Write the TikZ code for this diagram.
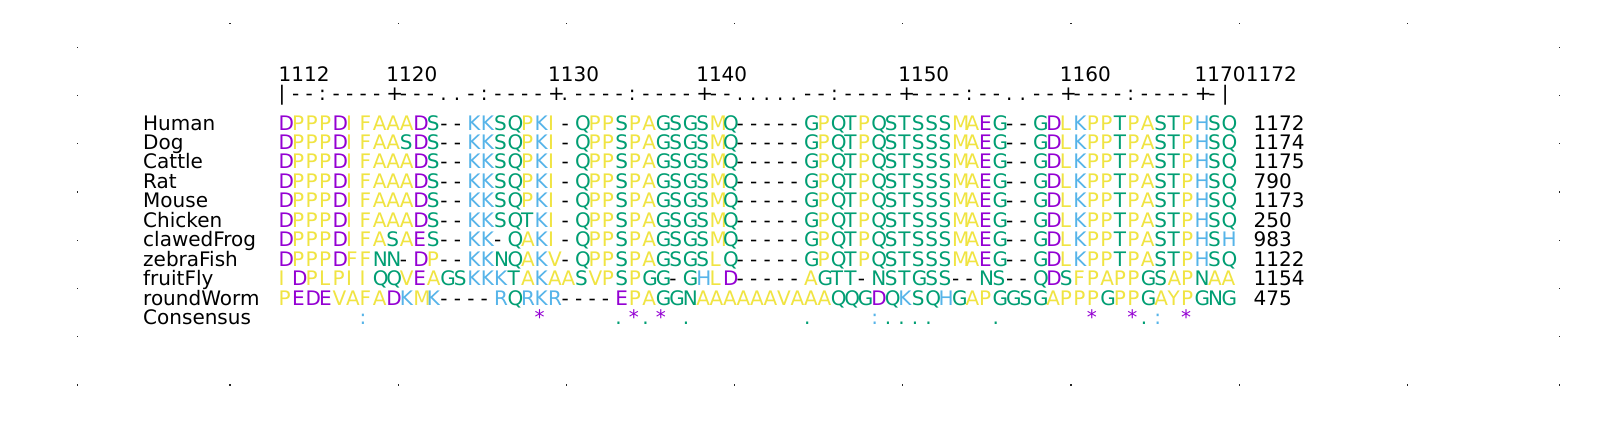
\documentclass[tikz,border=0pt]{standalone}
\usepackage{fontspec}
\setmainfont{DejaVu Sans}
\usepackage{tikz}
\usetikzlibrary{positioning}
\usepackage{xcolor}

\definecolor{acidic}{RGB}{148,0,211}
\definecolor{basic}{RGB}{86,180,233}
\definecolor{polar}{RGB}{0,158,115}
\definecolor{hydrophobic}{RGB}{240,228,66}

\newlength\colw
\setlength\colw{13.47pt}
\newif\ifshade

\makeatletter
\def\setres#1#2{\@tfor\@r:=#1\do{\expandafter\def\csname res@\@r\endcsname{#2}}}
\setres{DE}{acidic}
\setres{KRH}{basic}
\setres{STNQGC}{polar}
\setres{AVLIMFPYW}{hydrophobic}
\expandafter\def\csname res@*\endcsname{acidic}
\expandafter\def\csname res@:\endcsname{basic}
\expandafter\def\csname res@.\endcsname{polar}
% one fixed-width column per residue, x = empty column
\def\resbox#1{\makebox[\colw][l]{\if x#1\else\ifshade\ifcsname res@#1\endcsname\color{\csname res@#1\endcsname}\fi\fi#1\fi}}
\def\aln#1{\@tfor\@r:=#1\do{\expandafter\resbox\expandafter{\@r}}}
\makeatother

\begin{document}
\begin{tikzpicture}[x=1pt,y=-1pt]
  \tikzstyle{seq}=[anchor=base west,inner sep=0pt,font=\fontsize{20}{24}\selectfont]
  \tikzstyle{tickdot}=[fill=black!85]

  \fill[white] (0,0) rectangle (1602,432);
  \useasboundingbox (0,0) rectangle (1602,432);

  % frame ticks
  \foreach \k in {0,...,7} {
    \fill[tickdot] ({230+\k*168.19-0.6},22.7) rectangle ++(1.2,1.2);
    \fill[tickdot] ({230+\k*168.19-0.6},384.4) rectangle ++(1.2,1.2);
    \fill[tickdot] (76.7,{47.3+\k*48.24-0.6}) rectangle ++(1.2,1.2);
    \fill[tickdot] (1558.7,{47.3+\k*48.24-0.6}) rectangle ++(1.2,1.2);
  }

  % ruler
  \foreach \c/\lab in {1/1112, 9/1120, 21/1130, 32/1140, 47/1150, 59/1160, 69/1170}
    \node[seq] (tick-\lab) at ({278.5+(\c-1)*13.47},81.7) {\lab};
  \node[seq] (tick-1172) [base right=0pt of tick-1170] {1172};
  \node[seq] (ruler) at (278.5,100.5)
    {\aln{|--:----+---..-:----+.----:----+--.....--:----+----:--..--+----:----+-|}};

  \foreach \sp/\s/\len [count=\i] in {
    Human/DPPPDIFAAADS--KKSQPKI-QPPSPAGSGSMQ-----GPQTPQSTSSSMAEG--GDLKPPTPASTPHSQ/1172,
    Dog/DPPPDIFAASDS--KKSQPKI-QPPSPAGSGSMQ-----GPQTPQSTSSSMAEG--GDLKPPTPASTPHSQ/1174,
    Cattle/DPPPDIFAAADS--KKSQPKI-QPPSPAGSGSMQ-----GPQTPQSTSSSMAEG--GDLKPPTPASTPHSQ/1175,
    Rat/DPPPDIFAAADS--KKSQPKI-QPPSPAGSGSMQ-----GPQTPQSTSSSMAEG--GDLKPPTPASTPHSQ/790,
    Mouse/DPPPDIFAAADS--KKSQPKI-QPPSPAGSGSMQ-----GPQTPQSTSSSMAEG--GDLKPPTPASTPHSQ/1173,
    Chicken/DPPPDIFAAADS--KKSQTKI-QPPSPAGSGSMQ-----GPQTPQSTSSSMAEG--GDLKPPTPASTPHSQ/250,
    clawedFrog/DPPPDIFASAES--KK-QAKI-QPPSPAGSGSMQ-----GPQTPQSTSSSMAEG--GDLKPPTPASTPHSH/983,
    zebraFish/DPPPDFFNN-DP--KKNQAKV-QPPSPAGSGSLQ-----GPQTPQSTSSSMAEG--GDLKPPTPASTPHSQ/1122,
    fruitFly/IDPLPIIQQVEAGSKKKTAKAASVPSPGG-GHLD-----AGTT-NSTGSS--NS--QDSFPAPPGSAPNAA/1154,
    roundWorm/PEDEVAFADKMK----RQRKR----EPAGGNAAAAAAVAAAQQGDQKSQHGAPGGSGAPPPGPPGAYPGNG/475
  } {
    \node[seq] (\sp) at (143,{130+(\i-1)*19.45}) {\sp};
    \node[seq] (\sp-aln) at (278.5,{130+(\i-1)*19.45}) {\shadetrue\expandafter\aln\expandafter{\s}};
    \node[seq] (\sp-len) at (1253.5,{130+(\i-1)*19.45}) {\len};
  }

  \node[seq] (Consensus) at (143,324.5) {Consensus};
  \node[seq] (Consensus-aln) at (278.5,324.5)
    {\shadetrue\aln{xxxxxx:xxxxxxxxxxxx*xxxxx.*.*x.xxxxxxxx.xxxx:....xxxx.xxxxxx*xx*.:x*xxx}};
\end{tikzpicture}
\end{document}
